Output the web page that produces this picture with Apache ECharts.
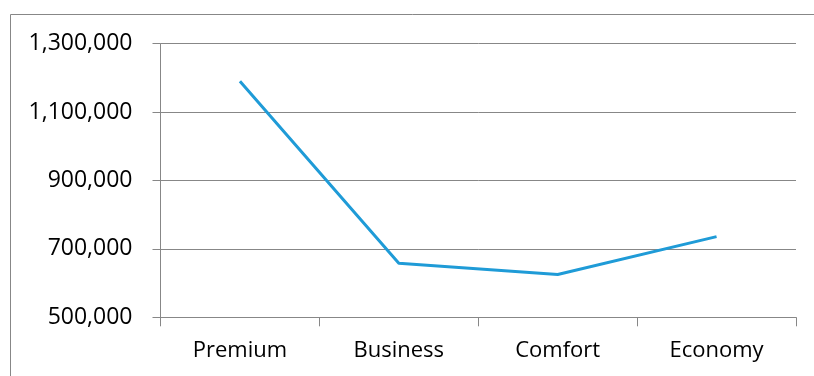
<!DOCTYPE html>
<html>
<head>
<meta charset="utf-8">
<script src="https://cdn.jsdelivr.net/npm/echarts@6/dist/echarts.min.js"></script>
<style>
  html, body { margin: 0; padding: 0; background: #ffffff; }
  #chart { width: 814px; height: 376px; }
</style>
</head>
<body>
<div id="chart"></div>
<script>
// Revenue by class
const categories = ['Premium', 'Business', 'Comfort', 'Economy'];
const values = [1190000, 658000, 625000, 736000];
const yMin = 500000;
const yMax = 1300000;
const yStep = 200000;

const fontFamily = '"Open Sans", "Noto Sans", sans-serif';
const gray = '#878787';

const chart = echarts.init(document.getElementById('chart'), null, { renderer: 'canvas' });

chart.setOption({
  animation: false,
  backgroundColor: '#ffffff',
  graphic: [{
    type: 'rect',
    shape: { x: 10.5, y: 14.5, width: 820, height: 380 },
    style: { fill: 'none', stroke: gray, lineWidth: 1 },
    silent: true,
    z: -1
  }],
  grid: { left: 160.5, right: 18, top: 43.7, bottom: 58.7, containLabel: false },
  xAxis: {
    type: 'category',
    data: categories,
    boundaryGap: true,
    axisLine: { show: true, lineStyle: { color: gray, width: 1 } },
    axisTick: { show: true, length: 9, inside: false, lineStyle: { color: gray } },
    axisLabel: { color: '#000000', fontFamily: fontFamily, fontSize: 22, margin: 22 },
    splitLine: { show: false }
  },
  yAxis: {
    type: 'value',
    min: yMin,
    max: yMax,
    interval: yStep,
    axisLine: { show: true, lineStyle: { color: gray, width: 1 } },
    axisTick: { show: true, length: 8, lineStyle: { color: gray } },
    axisLabel: {
      color: '#000000', fontFamily: fontFamily, fontSize: 23, margin: 28,
      formatter: v => v.toLocaleString('en-US')
    },
    splitLine: { show: true, lineStyle: { color: gray, width: 1 } }
  },
  series: [{
    type: 'line',
    data: values,
    showSymbol: false,
    symbol: 'none',
    lineStyle: { color: '#1f9bd7', width: 3 },
    itemStyle: { color: '#1f9bd7' }
  }]
});
</script>
</body>
</html>
